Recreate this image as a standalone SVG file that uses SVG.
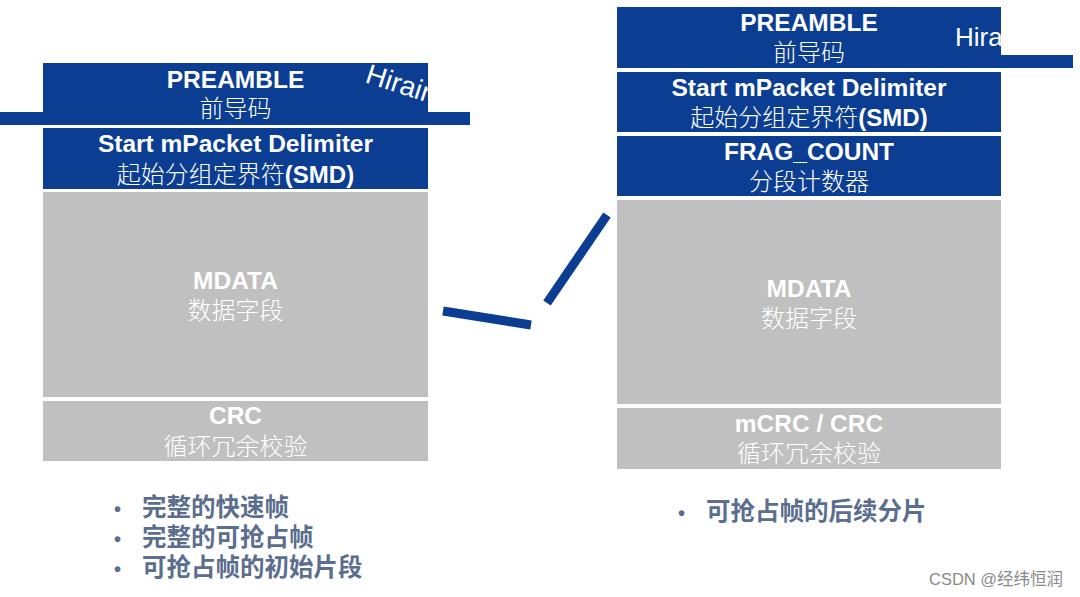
<svg xmlns="http://www.w3.org/2000/svg" width="1080" height="597" viewBox="0 0 1080 597">
<style>
.blue{fill:#0b3e92}
.gray{fill:#c0c0c0}
.en{font-family:"Liberation Sans",Arial,sans-serif;font-weight:bold;font-size:24.5px;fill:#fff;text-anchor:middle}
.zh{font-family:"Noto Sans CJK SC","Liberation Sans",sans-serif;font-weight:300;font-size:24px;fill:#fff;text-anchor:middle}
.b{font-family:"Liberation Sans",sans-serif;font-weight:bold}
.bul{font-family:"Noto Sans CJK SC",sans-serif;font-weight:bold;font-size:24.5px;fill:#5b6e8e}
.dot{font-family:"Liberation Sans",sans-serif;font-size:20px}
.wm{font-family:"Liberation Sans","Noto Sans CJK SC",sans-serif;font-size:16.5px;fill:#8a8a8a}
.hi{font-family:"Liberation Sans",sans-serif;font-size:26px;fill:#fff}
.hiL{font-size:28px}
.conn{stroke:#0b3e92;stroke-width:9;fill:none}
</style>
<defs>
<clipPath id="clipL"><rect x="43" y="63" width="385" height="62"/></clipPath>
<clipPath id="clipR"><rect x="617" y="7" width="384" height="61"/></clipPath>
</defs>

<g id="left-frame">
  <g id="l-preamble">
    <rect class="blue" x="0" y="112" width="470" height="13"/>
    <rect class="blue" x="43" y="63" width="385" height="62"/>
    <text class="en" x="235.5" y="88">PREAMBLE</text>
    <text class="zh" x="235.5" y="117">前导码</text>
    <g clip-path="url(#clipL)">
      <text class="hi hiL" x="364" y="82" transform="rotate(18 364 82)">Hirain</text>
    </g>
  </g>
  <g id="l-smd">
    <rect class="blue" x="43" y="128" width="385" height="61"/>
    <text class="en" x="235.5" y="152">Start mPacket Delimiter</text>
    <text class="zh" x="235.5" y="183">起始分组定界符<tspan class="b">(SMD)</tspan></text>
  </g>
  <g id="l-mdata">
    <rect class="gray" x="43" y="192" width="385" height="205"/>
    <text class="en" x="235.5" y="289">MDATA</text>
    <text class="zh" x="235.5" y="319">数据字段</text>
  </g>
  <g id="l-crc">
    <rect class="gray" x="43" y="401" width="385" height="60"/>
    <text class="en" x="235.5" y="424">CRC</text>
    <text class="zh" x="235.5" y="455">循环冗余校验</text>
  </g>
</g>

<g id="right-frame">
  <g id="r-preamble">
    <rect class="blue" x="1001" y="55" width="72" height="13"/>
    <rect class="blue" x="617" y="7" width="384" height="61"/>
    <text class="en" x="809" y="31">PREAMBLE</text>
    <text class="zh" x="809" y="61">前导码</text>
    <text class="hi" x="955" y="46" clip-path="url(#clipR)">Hira</text>
  </g>
  <g id="r-smd">
    <rect class="blue" x="617" y="72" width="384" height="60"/>
    <text class="en" x="809" y="96">Start mPacket Delimiter</text>
    <text class="zh" x="809" y="126">起始分组定界符<tspan class="b">(SMD)</tspan></text>
  </g>
  <g id="r-frag">
    <rect class="blue" x="617" y="136" width="384" height="60"/>
    <text class="en" x="809" y="160">FRAG_COUNT</text>
    <text class="zh" x="809" y="190">分段计数器</text>
  </g>
  <g id="r-mdata">
    <rect class="gray" x="617" y="200" width="384" height="204"/>
    <text class="en" x="809" y="297">MDATA</text>
    <text class="zh" x="809" y="327">数据字段</text>
  </g>
  <g id="r-crc">
    <rect class="gray" x="617" y="408" width="384" height="61"/>
    <text class="en" x="809" y="432">mCRC / CRC</text>
    <text class="zh" x="809" y="462">循环冗余校验</text>
  </g>
</g>

<g id="connectors">
  <line class="conn" x1="443" y1="311" x2="531" y2="325"/>
  <line class="conn" x1="547" y1="303" x2="607" y2="215"/>
</g>

<g id="notes">
  <text class="bul" x="114" y="516"><tspan class="dot">•</tspan><tspan x="142">完整的快速帧</tspan></text>
  <text class="bul" x="114" y="546"><tspan class="dot">•</tspan><tspan x="142">完整的可抢占帧</tspan></text>
  <text class="bul" x="114" y="576"><tspan class="dot">•</tspan><tspan x="142">可抢占帧的初始片段</tspan></text>
  <text class="bul" x="678" y="520"><tspan class="dot">•</tspan><tspan x="706">可抢占帧的后续分片</tspan></text>
  <text class="wm" x="929" y="585">CSDN @经纬恒润</text>
</g>
</svg>
